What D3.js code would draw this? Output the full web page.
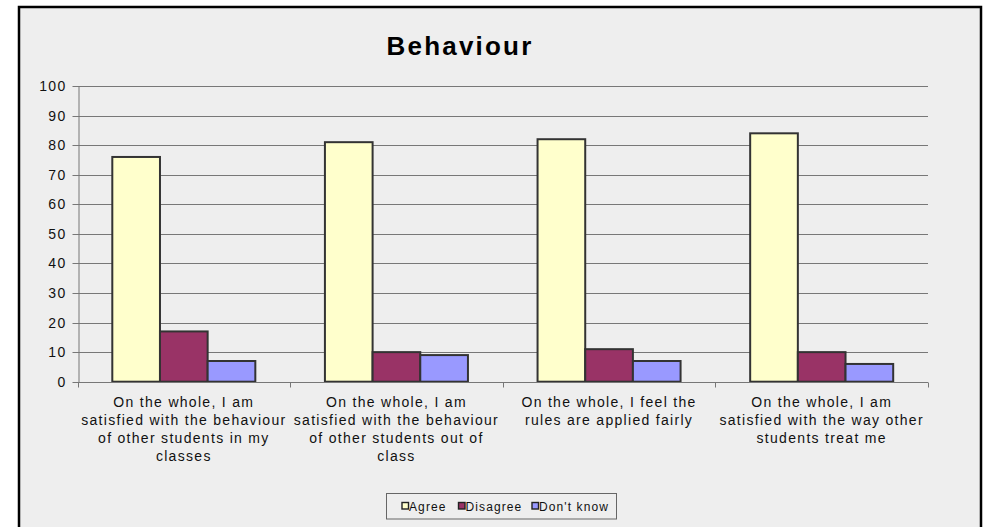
<!DOCTYPE html>
<html>
<head>
<meta charset="utf-8">
<script src="https://cdn.jsdelivr.net/npm/d3@7"></script>
<style>
  html, body { margin: 0; padding: 0; background: #fff; }
  svg { display: block; font-family: Arial, "Liberation Sans", sans-serif; }
</style>
</head>
<body>
<script>
// chart data
const categoryLines = [
  ["On the whole, I am", "satisfied with the behaviour", "of other students in my", "classes"],
  ["On the whole, I am", "satisfied with the behaviour", "of other students out of", "class"],
  ["On the whole, I feel the", "rules are applied  fairly"],
  ["On the whole, I am", "satisfied with the way other", "students treat me"]
];
const seriesNames = ["Agree", "Disagree", "Don't know"];
const agreeValues = [76, 81, 82, 84];
const disagreeValues = [17, 10, 11, 10];
const dontKnowValues = [7, 9, 7, 6];
const yTicks = [0, 10, 20, 30, 40, 50, 60, 70, 80, 90, 100];
const seriesColors = ["#ffffcc", "#993366", "#9999ff"];

const width = 984;
const height = 527;
const plot = { left: 77.5, right: 928, top: 86, bottom: 381.7 };

const categories = categoryLines.map((d, i) => "c" + i);
const seriesValues = [agreeValues, disagreeValues, dontKnowValues];

const svg = d3.select("body").append("svg")
  .attr("width", width)
  .attr("height", height);

// chart area with black frame
svg.append("rect")
  .attr("x", 19).attr("y", 7)
  .attr("width", 962).attr("height", height)
  .attr("fill", "#eeeeee")
  .attr("stroke", "#000")
  .attr("stroke-width", 2.5);

svg.append("text")
  .attr("x", 460).attr("y", 54.5)
  .attr("text-anchor", "middle")
  .attr("font-size", 26)
  .attr("font-weight", "bold")
  .attr("letter-spacing", 2.2)
  .attr("fill", "#000")
  .text("Behaviour");

const y = d3.scaleLinear().domain([0, 100]).range([plot.bottom, plot.top]);
const x0 = d3.scaleBand().domain(categories).range([plot.left, plot.right]).padding(0);
const x1 = d3.scaleBand().domain(seriesNames).range([0, x0.bandwidth()])
  .paddingInner(0).paddingOuter(0.73);

// gridlines
svg.append("g")
  .selectAll("line")
  .data(yTicks.filter(d => d > 0))
  .join("line")
  .attr("x1", plot.left).attr("x2", plot.right)
  .attr("y1", d => Math.round(y(d)) + 0.5).attr("y2", d => Math.round(y(d)) + 0.5)
  .attr("stroke", "#777")
  .attr("stroke-width", 1);

// y axis
const yAxis = svg.append("g")
  .attr("transform", `translate(${Math.round(plot.left) + 0.5},0)`)
  .call(d3.axisLeft(y).tickValues(yTicks).tickSize(6).tickPadding(8).tickSizeOuter(0));
yAxis.select(".domain").attr("stroke", "#777");
yAxis.selectAll(".tick line").attr("stroke", "#777");
yAxis.selectAll(".tick").attr("transform", d => `translate(0,${Math.round(y(d)) + 0.5})`);
yAxis.selectAll(".tick text")
  .attr("font-family", "Arial, 'Liberation Sans', sans-serif")
  .attr("font-size", 14)
  .attr("letter-spacing", 1.3)
  .attr("fill", "#111")
  .attr("dx", 2);

// bars
const groups = svg.append("g")
  .selectAll("g")
  .data(categories)
  .join("g")
  .attr("transform", d => `translate(${x0(d)},0)`);

groups.selectAll("rect")
  .data((c, ci) => seriesNames.map((s, si) => ({ s, v: seriesValues[si][ci], color: seriesColors[si] })))
  .join("rect")
  .attr("x", d => x1(d.s))
  .attr("y", d => y(d.v))
  .attr("width", x1.bandwidth())
  .attr("height", d => y(0) - y(d.v))
  .attr("fill", d => d.color)
  .attr("stroke", "#333")
  .attr("stroke-width", 2);

// x axis
const xAxis = svg.append("g")
  .attr("transform", `translate(0,${Math.round(plot.bottom) + 0.5})`);
xAxis.append("line")
  .attr("x1", plot.left).attr("x2", plot.right)
  .attr("stroke", "#777");
xAxis.selectAll(".xtick")
  .data(categories.map(c => x0(c)).concat([plot.right]))
  .join("line")
  .attr("class", "xtick")
  .attr("x1", d => Math.round(d) + 0.5).attr("x2", d => Math.round(d) + 0.5)
  .attr("y1", 0).attr("y2", 5)
  .attr("stroke", "#777");

// category labels
svg.append("g")
  .selectAll("text")
  .data(categoryLines)
  .join("text")
  .attr("text-anchor", "middle")
  .attr("font-size", 14)
  .attr("letter-spacing", 1.3)
  .attr("fill", "#111")
  .each(function (lines, i) {
    const cx = x0(categories[i]) + x0.bandwidth() / 2;
    d3.select(this).selectAll("tspan")
      .data(lines)
      .join("tspan")
      .attr("x", cx)
      .attr("y", (d, j) => 406.5 + j * 18.3)
      .text(d => d);
  });

// legend
const legend = svg.append("g");
legend.append("rect")
  .attr("x", 386.5).attr("y", 493.5)
  .attr("width", 230).attr("height", 25.5)
  .attr("fill", "#eeeeee")
  .attr("stroke", "#666")
  .attr("stroke-width", 1);
const legendX = [402, 458.5, 532];
const items = legend.selectAll("g")
  .data(seriesNames)
  .join("g")
  .attr("transform", (d, i) => `translate(${legendX[i]},506)`);
items.append("rect")
  .attr("x", 0).attr("y", -3.5)
  .attr("width", 6.5).attr("height", 6.5)
  .attr("fill", (d, i) => seriesColors[i])
  .attr("stroke", "#222")
  .attr("stroke-width", 1.4);
items.append("text")
  .attr("x", 7)
  .attr("y", 4.5)
  .attr("font-size", 12)
  .attr("letter-spacing", 1.1)
  .attr("fill", "#111")
  .text(d => d);
</script>
</body>
</html>
